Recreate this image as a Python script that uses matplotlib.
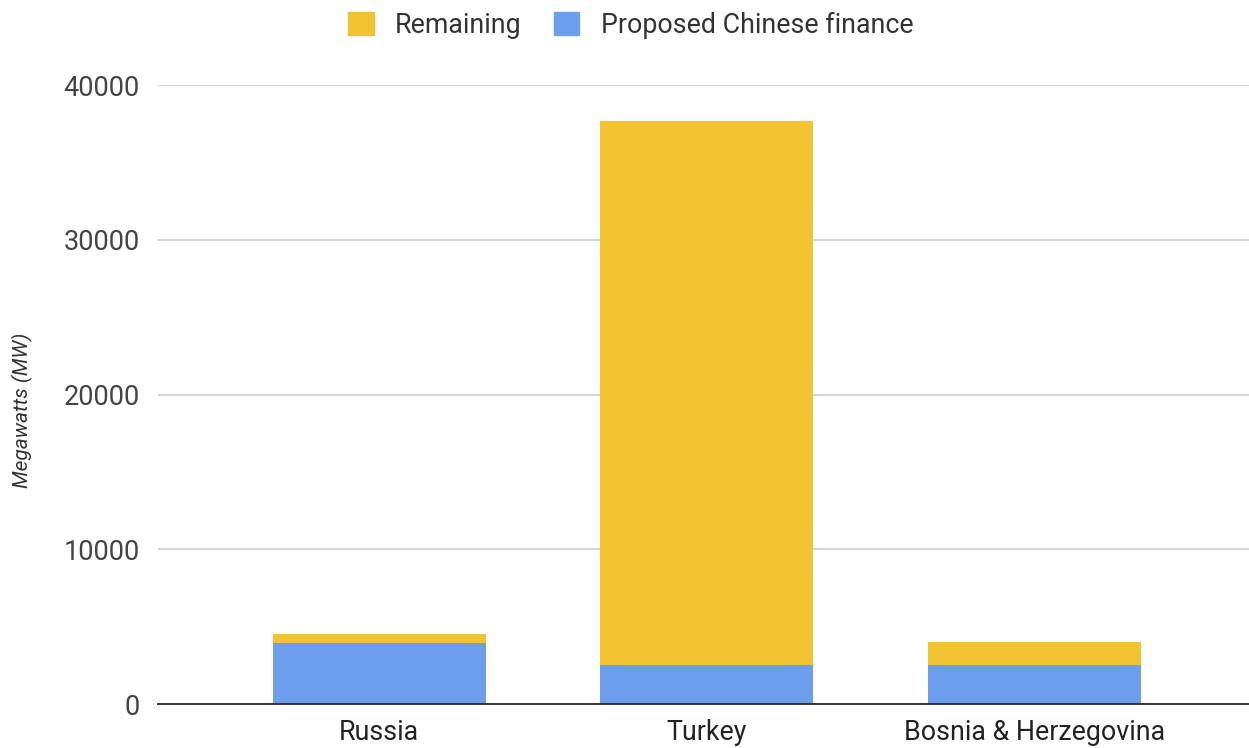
import matplotlib.pyplot as plt
from matplotlib.patches import Patch
import numpy as np

countries = ['Russia', 'Turkey', 'Bosnia & Herzegovina']
chinese_finance = [3920, 2500, 2520]
remaining = [590, 35200, 1510]
yticks = [0, 10000, 20000, 30000, 40000]

yellow = '#F1C232'
blue = '#6D9EEB'

plt.rcParams['font.family'] = ['Roboto', 'DejaVu Sans']

fig = plt.figure(figsize=(12.49, 7.48), dpi=100)
ax = fig.add_axes([0.1265, 0.0588, 0.8735, 0.8272])

x = np.arange(len(countries))
ax.bar(x, chinese_finance, width=0.65, color=blue, zorder=3)
ax.bar(x, remaining, width=0.65, bottom=chinese_finance, color=yellow, zorder=3)

ax.set_xlim(-0.675, 2.656)
ax.set_ylim(0, 40000)
ax.set_yticks(yticks)
ax.set_yticklabels([str(v) for v in yticks])
ax.set_xticks(x)
ax.set_xticklabels(countries)

ax.grid(axis='y', color='#cccccc', linewidth=1.2, zorder=0)
for s in ['top', 'right', 'left']:
    ax.spines[s].set_visible(False)
ax.spines['bottom'].set_color('#333333')
ax.spines['bottom'].set_linewidth(1.4)
ax.spines['bottom'].set_zorder(4)

ax.tick_params(axis='y', length=0, pad=13, labelsize=19.5, labelcolor='#444444')
ax.tick_params(axis='x', length=0, pad=11, labelsize=19.3, labelcolor='#222222')

fig.text(0.018, 0.452, 'Megawatts (MW)', rotation=90, style='italic',
         fontsize=15, color='#333333', ha='center', va='center')

handles = [Patch(color=yellow, label='Remaining'),
           Patch(color=blue, label='Proposed Chinese finance')]
fig.legend(handles=handles, loc='center', bbox_to_anchor=(0.505, 0.966), ncol=2,
           frameon=False, fontsize=19.3, handlelength=0.95, handleheight=0.95,
           handletextpad=0.8, columnspacing=1.2, labelcolor='#333333')

fig.savefig('out.png', dpi=100)
